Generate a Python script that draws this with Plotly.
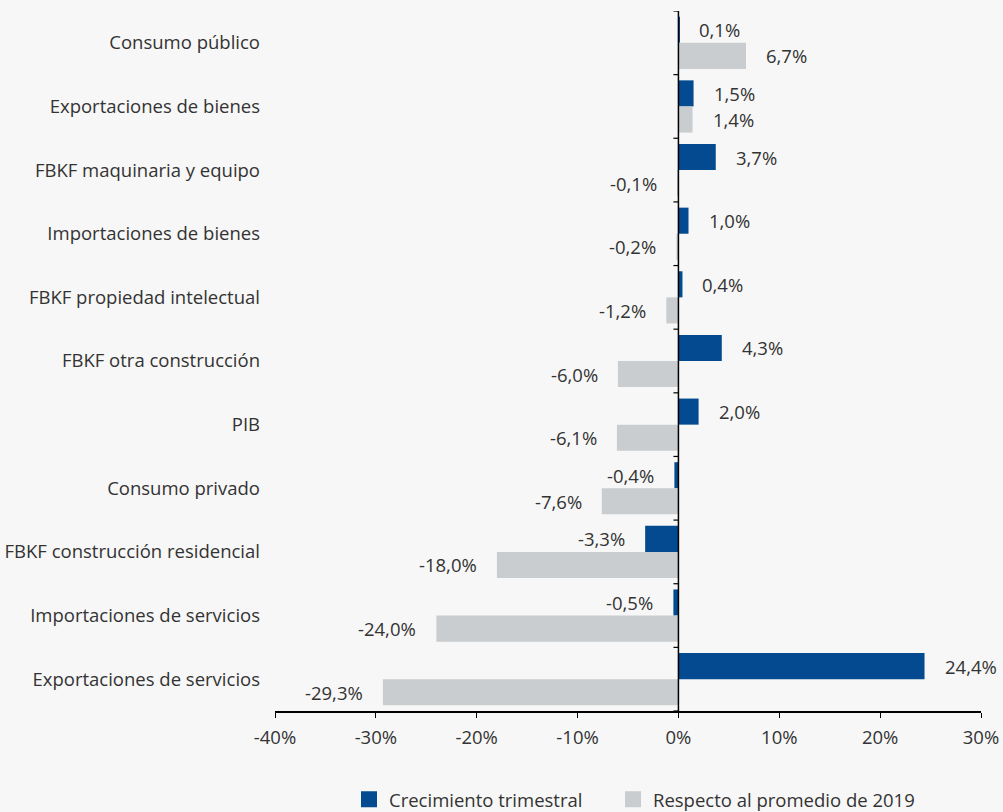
import plotly.graph_objects as go

categories = [
    "Consumo público",
    "Exportaciones de bienes",
    "FBKF maquinaria y equipo",
    "Importaciones de bienes",
    "FBKF propiedad intelectual",
    "FBKF otra construcción",
    "PIB",
    "Consumo privado",
    "FBKF construcción residencial",
    "Importaciones de servicios",
    "Exportaciones de servicios",
]
crecimiento_trimestral = [0.1, 1.5, 3.7, 1.0, 0.4, 4.3, 2.0, -0.4, -3.3, -0.5, 24.4]
respecto_2019 = [6.7, 1.4, -0.1, -0.2, -1.2, -6.0, -6.1, -7.6, -18.0, -24.0, -29.3]
series_names = ["Crecimiento trimestral", "Respecto al promedio de 2019"]
x_ticks = [-40, -30, -20, -10, 0, 10, 20, 30]
x_tick_labels = [f"{v}%" for v in x_ticks]

BLUE = "#034a91"
GRAY = "#c9cdd0"
BG = "#f7f7f7"
TXT = "#333333"
FONT = "Open Sans"
FS = 18.5

idx = list(range(len(categories)))

fig = go.Figure()
fig.add_trace(go.Bar(y=idx, x=crecimiento_trimestral, orientation="h", showlegend=False,
                     name=series_names[0], marker=dict(color=BLUE, line=dict(width=0))))
fig.add_trace(go.Bar(y=idx, x=respecto_2019, orientation="h", showlegend=False,
                     name=series_names[1], marker=dict(color=GRAY, line=dict(width=0))))
# legend entries with larger square swatches, one legend box each
for name, col, lg in zip(series_names, (BLUE, GRAY), ("legend", "legend2")):
    fig.add_trace(go.Scatter(x=[None], y=[None], mode="markers", name=name, legend=lg,
                             marker=dict(symbol="square", size=16, color=col)))

bargap = 0.18
half = (1 - bargap) / 4  # offset of each bar centre from category centre

def fmt(v):
    return f"{v:.1f}".replace(".", ",") + "%"

annotations = []
for series, off in ((crecimiento_trimestral, -half), (respecto_2019, half)):
    for i, v in enumerate(series):
        pos = v >= 0
        annotations.append(dict(
            x=v, y=i + off, xref="x", yref="y", text=fmt(v), showarrow=False,
            xanchor="left" if pos else "right", yanchor="middle",
            xshift=18 if pos else -18, font=dict(family=FONT, size=FS, color=TXT)))

shapes = [dict(type="line", xref="x", yref="y", x0=0, x1=0, y0=-0.5, y1=len(categories) - 0.5,
               line=dict(color="black", width=1.5))]
for k in range(len(categories) + 1):
    shapes.append(dict(type="line", xref="x", yref="y", xsizemode="pixel", xanchor=0,
                       x0=-5, x1=0, y0=k - 0.5, y1=k - 0.5,
                       line=dict(color="black", width=1.2)))

legend_common = dict(orientation="h", xref="container", yref="container",
                     xanchor="left", y=0.015, yanchor="middle",
                     font=dict(family=FONT, size=FS, color=TXT), bgcolor="rgba(0,0,0,0)",
                     itemwidth=30)

fig.update_layout(
    width=1003, height=812,
    paper_bgcolor=BG, plot_bgcolor=BG,
    margin=dict(l=275, r=22, t=11, b=101, autoexpand=False),
    barmode="group", bargap=bargap, bargroupgap=0,
    font=dict(family=FONT, size=FS, color=TXT),
    showlegend=True,
    legend=dict(x=349 / 1003, **legend_common),
    legend2=dict(x=613 / 1003, **legend_common),
    annotations=annotations,
    shapes=shapes,
)
fig.update_xaxes(range=[-40, 30], tickvals=x_ticks, ticktext=x_tick_labels, automargin=False,
                 showgrid=False, zeroline=False, showline=True, linecolor="black", linewidth=1.5,
                 ticks="outside", ticklen=5, tickcolor="black", tickwidth=1.2,
                 ticklabelstandoff=4,
                 tickfont=dict(family=FONT, size=FS, color=TXT))
fig.update_yaxes(range=[len(categories) - 0.5, -0.5], tickvals=idx, ticktext=categories,
                 automargin=False,
                 showgrid=False, zeroline=False, showline=False, ticks="",
                 ticklabelstandoff=14,
                 tickfont=dict(family=FONT, size=FS, color=TXT))

fig.write_html(
    "out.html",
    config={"displayModeBar": False},
    post_script="document.body.style.margin='0';document.body.style.overflow='hidden';"
                "document.body.style.background='%s';" % BG,
)
